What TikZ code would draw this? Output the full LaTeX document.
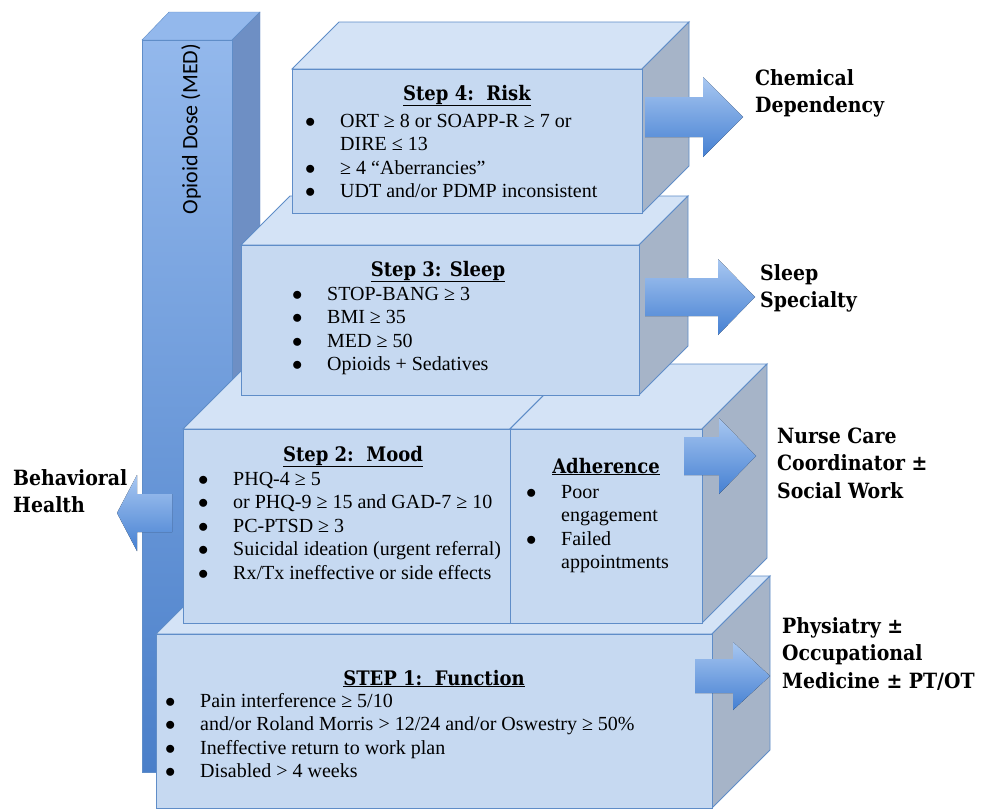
\documentclass[tikz,border=0pt]{standalone}
\usepackage{fontspec}
\setmainfont{Liberation Serif}
\IfFontExistsTF{DejaVu Serif Condensed Bold}
  {\newfontfamily\headfont{DejaVu Serif Condensed Bold}}
  {\newfontfamily\headfont{DejaVu Serif Bold}}
\newfontfamily\colfont{Carlito}

\definecolor{boxfront}{HTML}{C6D9F1}
\definecolor{boxtop}{HTML}{D4E3F6}
\definecolor{boxside}{HTML}{A6B4C8}
\definecolor{boxline}{HTML}{5F8DC8}
\definecolor{coltop}{HTML}{93B8EC}
\definecolor{colbot}{HTML}{4A7FC9}
\definecolor{colside}{HTML}{6E8FC4}
\definecolor{arrtop}{HTML}{A8C7F1}
\definecolor{arrbot}{HTML}{4580D2}

% box with front face (#1,#2)-(#3,#4) and depth #5
\newcommand{\cuboid}[5]{%
  \filldraw[facetop] (#1,#2) -- ++(#5,-#5) -- ({#3+#5},{#2-#5}) -- (#3,#2) -- cycle;
  \filldraw[faceside] (#3,#2) -- ++(#5,-#5) -- ({#3+#5},{#4-#5}) -- (#3,#4) -- cycle;
  \filldraw[facefront] (#1,#2) rectangle (#3,#4);}
% block arrow: shaft from #1, head from #2, tip (#3,#4), half shaft #5
\newcommand{\blockarrow}[5]{%
  \fill[blockarr] (#1,{#4-#5}) -- (#2,{#4-#5}) -- (#2,{#4-2*#5}) -- (#3,#4)
    -- (#2,{#4+2*#5}) -- (#2,{#4+#5}) -- (#1,{#4+#5}) -- cycle;}
\newcommand{\bul}{\makebox[35pt][l]{$\bullet$}}
\newcommand{\nobul}{\makebox[35pt]{}}

\begin{document}
\begin{tikzpicture}[x=1pt,y=-1pt,
    facefront/.style={draw=boxline,fill=boxfront,line width=0.9pt},
    facetop/.style={draw=boxline,fill=boxtop,line width=0.9pt},
    faceside/.style={draw=boxline,fill=boxside,line width=0.9pt},
    blockarr/.style={top color=arrtop,bottom color=arrbot},
    title/.style={font=\headfont\fontsize{20}{24}\selectfont,anchor=base,inner sep=0pt},
    list/.style={font=\fontsize{20}{23.5}\selectfont,anchor=base west,inner sep=0pt},
    dest/.style={font=\headfont\fontsize{21}{27.7}\selectfont,anchor=base west,inner sep=0pt}]
  \fill[white] (0,0) rectangle (981,811);
  \useasboundingbox (0,0) rectangle (981,811);
  % dose column
  \filldraw[draw=boxline,fill=coltop] (142,40) -- (169,12) -- (260,12) -- (232,40) -- cycle;
  \filldraw[draw=boxline,fill=colside] (232,40) -- (260,12) -- (260,745) -- (232,772) -- cycle;
  \shade[top color=coltop,bottom color=colbot,draw=boxline] (142,40) rectangle (232,772);
  \node[font=\colfont\fontsize{22}{26}\selectfont,rotate=90,inner sep=0pt] (dose) at (191,129) {Opioid Dose (MED)};
  \blockarrow{172}{137}{117}{513}{19}
  % steps, lowest first
  \cuboid{156}{634}{712}{808}{58}
  \cuboid{183}{429}{510}{623}{65}
  \cuboid{510}{429}{702}{623}{65}
  \cuboid{241}{245}{639}{395}{49}
  \cuboid{292}{69}{642}{213}{47}
  \blockarrow{645}{703}{743}{117}{20}
  \blockarrow{645}{718}{755}{297}{19}
  \blockarrow{684}{719}{756}{456}{19}
  \blockarrow{695}{733}{770}{676}{17}

  \node[title] (risk) at (467,100) {\underline{Step 4:\ \ Risk}};
  \node[list] (risklist) at (305,127) {\begin{tabular}[t]{@{}l@{}}
    \bul ORT ≥ 8 or SOAPP-R ≥ 7 or\\ \nobul DIRE ≤ 13\\ \bul ≥ 4 “Aberrancies”\\
    \bul UDT and/or PDMP inconsistent\end{tabular}};
  \node[title] (sleep) at (438,276) {\underline{Step 3: Sleep}};
  \node[list] (sleeplist) at (292,300) {\begin{tabular}[t]{@{}l@{}}
    \bul STOP-BANG ≥ 3\\ \bul BMI ≥ 35\\ \bul MED ≥ 50\\ \bul Opioids + Sedatives\end{tabular}};
  \node[title] (mood) at (353,461) {\underline{Step 2:\ \ Mood}};
  \node[list] (moodlist) at (198,485) {\begin{tabular}[t]{@{}l@{}}
    \bul PHQ-4 ≥ 5\\ \bul or PHQ-9 ≥ 15 and GAD-7 ≥ 10\\ \bul PC-PTSD ≥ 3\\
    \bul Suicidal ideation (urgent referral)\\ \bul Rx/Tx ineffective or side effects\end{tabular}};
  \node[title] (adh) at (606,473) {\underline{Adherence}};
  \node[list] (adhlist) at (526,498) {\begin{tabular}[t]{@{}l@{}}
    \bul Poor\\ \nobul engagement\\ \bul Failed\\ \nobul appointments\end{tabular}};
  \node[title] (func) at (434,685) {\underline{STEP 1:\ \ Function}};
  \node[list] (funclist) at (165,707) {\begin{tabular}[t]{@{}l@{}}
    \bul Pain interference ≥ 5/10\\ \bul and/or Roland Morris > 12/24 and/or Oswestry ≥ 50\%\\
    \bul Ineffective return to work plan\\ \bul Disabled > 4 weeks\end{tabular}};

  \node[dest] (chem) at (755,85) {\begin{tabular}[t]{@{}l@{}}Chemical\\Dependency\end{tabular}};
  \node[dest] (sleepspec) at (760,280) {\begin{tabular}[t]{@{}l@{}}Sleep\\Specialty\end{tabular}};
  \node[dest] (nurse) at (777,443) {\begin{tabular}[t]{@{}l@{}}Nurse Care\\Coordinator ±\\Social Work\end{tabular}};
  \node[dest] (phys) at (782,633) {\begin{tabular}[t]{@{}l@{}}Physiatry ±\\Occupational\\Medicine ± PT/OT\end{tabular}};
  \node[dest] (behav) at (13,485) {\begin{tabular}[t]{@{}l@{}}Behavioral\\Health\end{tabular}};
\end{tikzpicture}
\end{document}
